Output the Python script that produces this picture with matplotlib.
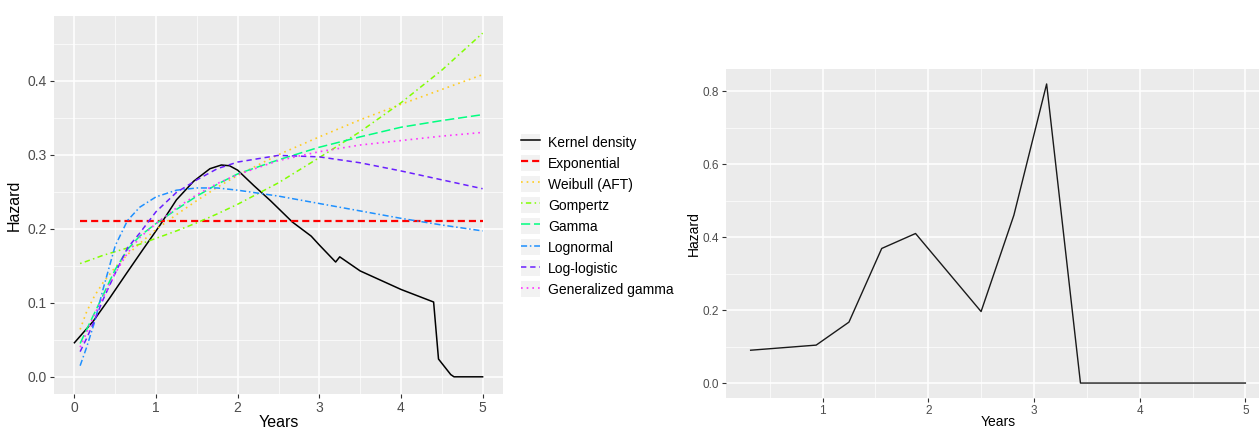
import matplotlib.pyplot as plt
from matplotlib.legend_handler import HandlerLine2D
from matplotlib.patches import Rectangle
from matplotlib.ticker import MultipleLocator

plt.rcParams['font.family'] = ['Liberation Sans', 'DejaVu Sans']

# fitted hazards (left panel)
t_fit = [0.07, 0.15, 0.25, 0.35, 0.5, 0.65, 0.8, 1.0, 1.25, 1.5, 1.75, 2.0, 2.5, 3.0, 3.5, 4.0, 4.5, 5.0]
h_weibull = [0.064, 0.088, 0.110, 0.127, 0.148, 0.165, 0.180, 0.199, 0.219, 0.238, 0.256, 0.272,
             0.300, 0.324, 0.347, 0.368, 0.388, 0.408]
h_gompertz = [0.153, 0.156, 0.160, 0.164, 0.169, 0.174, 0.179, 0.187, 0.197, 0.208, 0.220, 0.233,
              0.262, 0.296, 0.331, 0.370, 0.414, 0.464]
h_gamma = [0.045, 0.064, 0.087, 0.110, 0.145, 0.172, 0.190, 0.207, 0.226, 0.244, 0.260, 0.274,
           0.293, 0.310, 0.324, 0.337, 0.346, 0.354]
h_lognormal = [0.015, 0.040, 0.075, 0.118, 0.177, 0.211, 0.229, 0.243, 0.252, 0.255, 0.255, 0.252,
               0.244, 0.234, 0.224, 0.214, 0.205, 0.197]
h_loglogistic = [0.034, 0.052, 0.077, 0.104, 0.140, 0.174, 0.194, 0.223, 0.249, 0.266, 0.281, 0.290,
                 0.299, 0.297, 0.289, 0.278, 0.266, 0.254]
h_gengamma = [0.040, 0.060, 0.085, 0.107, 0.140, 0.167, 0.188, 0.207, 0.228, 0.246, 0.261, 0.273,
              0.292, 0.304, 0.313, 0.319, 0.325, 0.330]
t_exp = [0.07, 5.0]
h_exp = [0.21, 0.21]

# kernel density estimate
t_kern = [0.0, 0.23, 0.43, 0.64, 0.84, 1.05, 1.25, 1.46, 1.66, 1.8, 1.9, 2.0, 2.2, 2.4, 2.67, 2.9,
          3.0, 3.2, 3.25, 3.5, 4.0, 4.4, 4.46, 4.61, 4.65, 5.0]
h_kern = [0.046, 0.075, 0.106, 0.140, 0.172, 0.205, 0.239, 0.264, 0.281, 0.286, 0.285, 0.279, 0.258,
          0.238, 0.209, 0.190, 0.178, 0.155, 0.162, 0.143, 0.118, 0.101, 0.024, 0.003, 0.0, 0.0]

# piecewise hazard (right panel)
t_pw = [0.32, 0.94, 1.25, 1.56, 1.88, 2.50, 2.81, 3.12, 3.44, 5.0]
h_pw = [0.090, 0.104, 0.167, 0.369, 0.410, 0.196, 0.460, 0.820, 0.0, 0.0]

series = [
    ('Kernel density', t_kern, h_kern, 'black', None, 1.1),
    ('Exponential', t_exp, h_exp, '#FF0000', (3.2, 1.8), 1.6),
    ('Weibull (AFT)', t_fit, h_weibull, '#FFCC22', (1, 2.4), 1.2),
    ('Gompertz', t_fit, h_gompertz, '#80FF00', (1, 2.2, 3.5, 2.2), 1.1),
    ('Gamma', t_fit, h_gamma, '#00FF80', (6, 2.5), 1.1),
    ('Lognormal', t_fit, h_lognormal, '#1E90FF', (4, 1.8, 1, 1.8), 1.1),
    ('Log-logistic', t_fit, h_loglogistic, '#6A1FFF', (3.5, 2.5), 1.1),
    ('Generalized gamma', t_fit, h_gengamma, '#FF33FF', (1, 2.4), 1.2),
]


class GreyKey(HandlerLine2D):
    def create_artists(self, legend, orig_handle, xdescent, ydescent, width, height, fontsize, trans):
        arts = super().create_artists(legend, orig_handle, xdescent, ydescent,
                                      width, height, fontsize, trans)
        box = Rectangle((-xdescent, -ydescent), width, height, facecolor='#F2F2F2',
                        edgecolor='none', transform=trans)
        return [box] + list(arts)


def gg_style(ax, labelsize):
    ax.set_facecolor('#EBEBEB')
    for s in ax.spines.values():
        s.set_visible(False)
    ax.grid(which='major', color='white', linewidth=1.1)
    ax.grid(which='minor', color='white', linewidth=0.5)
    ax.set_axisbelow(True)
    ax.tick_params(which='major', length=3, width=0.8, color='#333333',
                   labelcolor='#4D4D4D', labelsize=labelsize, pad=2)
    ax.tick_params(which='minor', length=0)


fig = plt.figure(figsize=(12.59, 4.28), dpi=100)

ax1 = fig.add_axes([54 / 1259, 1 - 394 / 428, 449 / 1259, 378 / 428])
lines = []
for name, t, h, col, dash, lw in series:
    ln, = ax1.plot(t, h, color=col, linewidth=lw, label=name)
    if dash is not None:
        ln.set_dashes(dash)
    lines.append(ln)
ax1.set_xlim(-0.25, 5.25)
ax1.set_ylim(-0.0232, 0.4872)
ax1.xaxis.set_major_locator(MultipleLocator(1))
ax1.xaxis.set_minor_locator(MultipleLocator(0.5))
ax1.yaxis.set_major_locator(MultipleLocator(0.1))
ax1.yaxis.set_minor_locator(MultipleLocator(0.05))
ax1.yaxis.set_major_formatter(lambda v, p: f'{v:.1f}')
gg_style(ax1, 10)
ax1.set_xlabel('Years', fontsize=11.5, labelpad=0)
ax1.set_ylabel('Hazard', fontsize=11.5, labelpad=4)

fig.legend(handles=lines, loc='upper left', bbox_to_anchor=(521 / 1259, 1 - 134 / 428),
           frameon=False, fontsize=10, handlelength=1.4, handleheight=1.37,
           handletextpad=0.55, labelspacing=0.38, borderpad=0, borderaxespad=0,
           handler_map={type(lines[0]): GreyKey()})

ax2 = fig.add_axes([726 / 1259, 1 - 398 / 428, 544 / 1259, 329 / 428])
ax2.plot(t_pw, h_pw, color='#1A1A1A', linewidth=1.0)
ax2.set_xlim(0.087, 5.233)
ax2.set_ylim(-0.041, 0.861)
ax2.xaxis.set_major_locator(MultipleLocator(1))
ax2.xaxis.set_minor_locator(MultipleLocator(0.5))
ax2.yaxis.set_major_locator(MultipleLocator(0.2))
ax2.yaxis.set_minor_locator(MultipleLocator(0.1))
ax2.yaxis.set_major_formatter(lambda v, p: f'{v:.1f}')
gg_style(ax2, 8.5)
ax2.set_xlabel('Years', fontsize=10, labelpad=-1.5)
ax2.set_ylabel('Hazard', fontsize=10, labelpad=1)

fig.savefig('out.png', dpi=100)
